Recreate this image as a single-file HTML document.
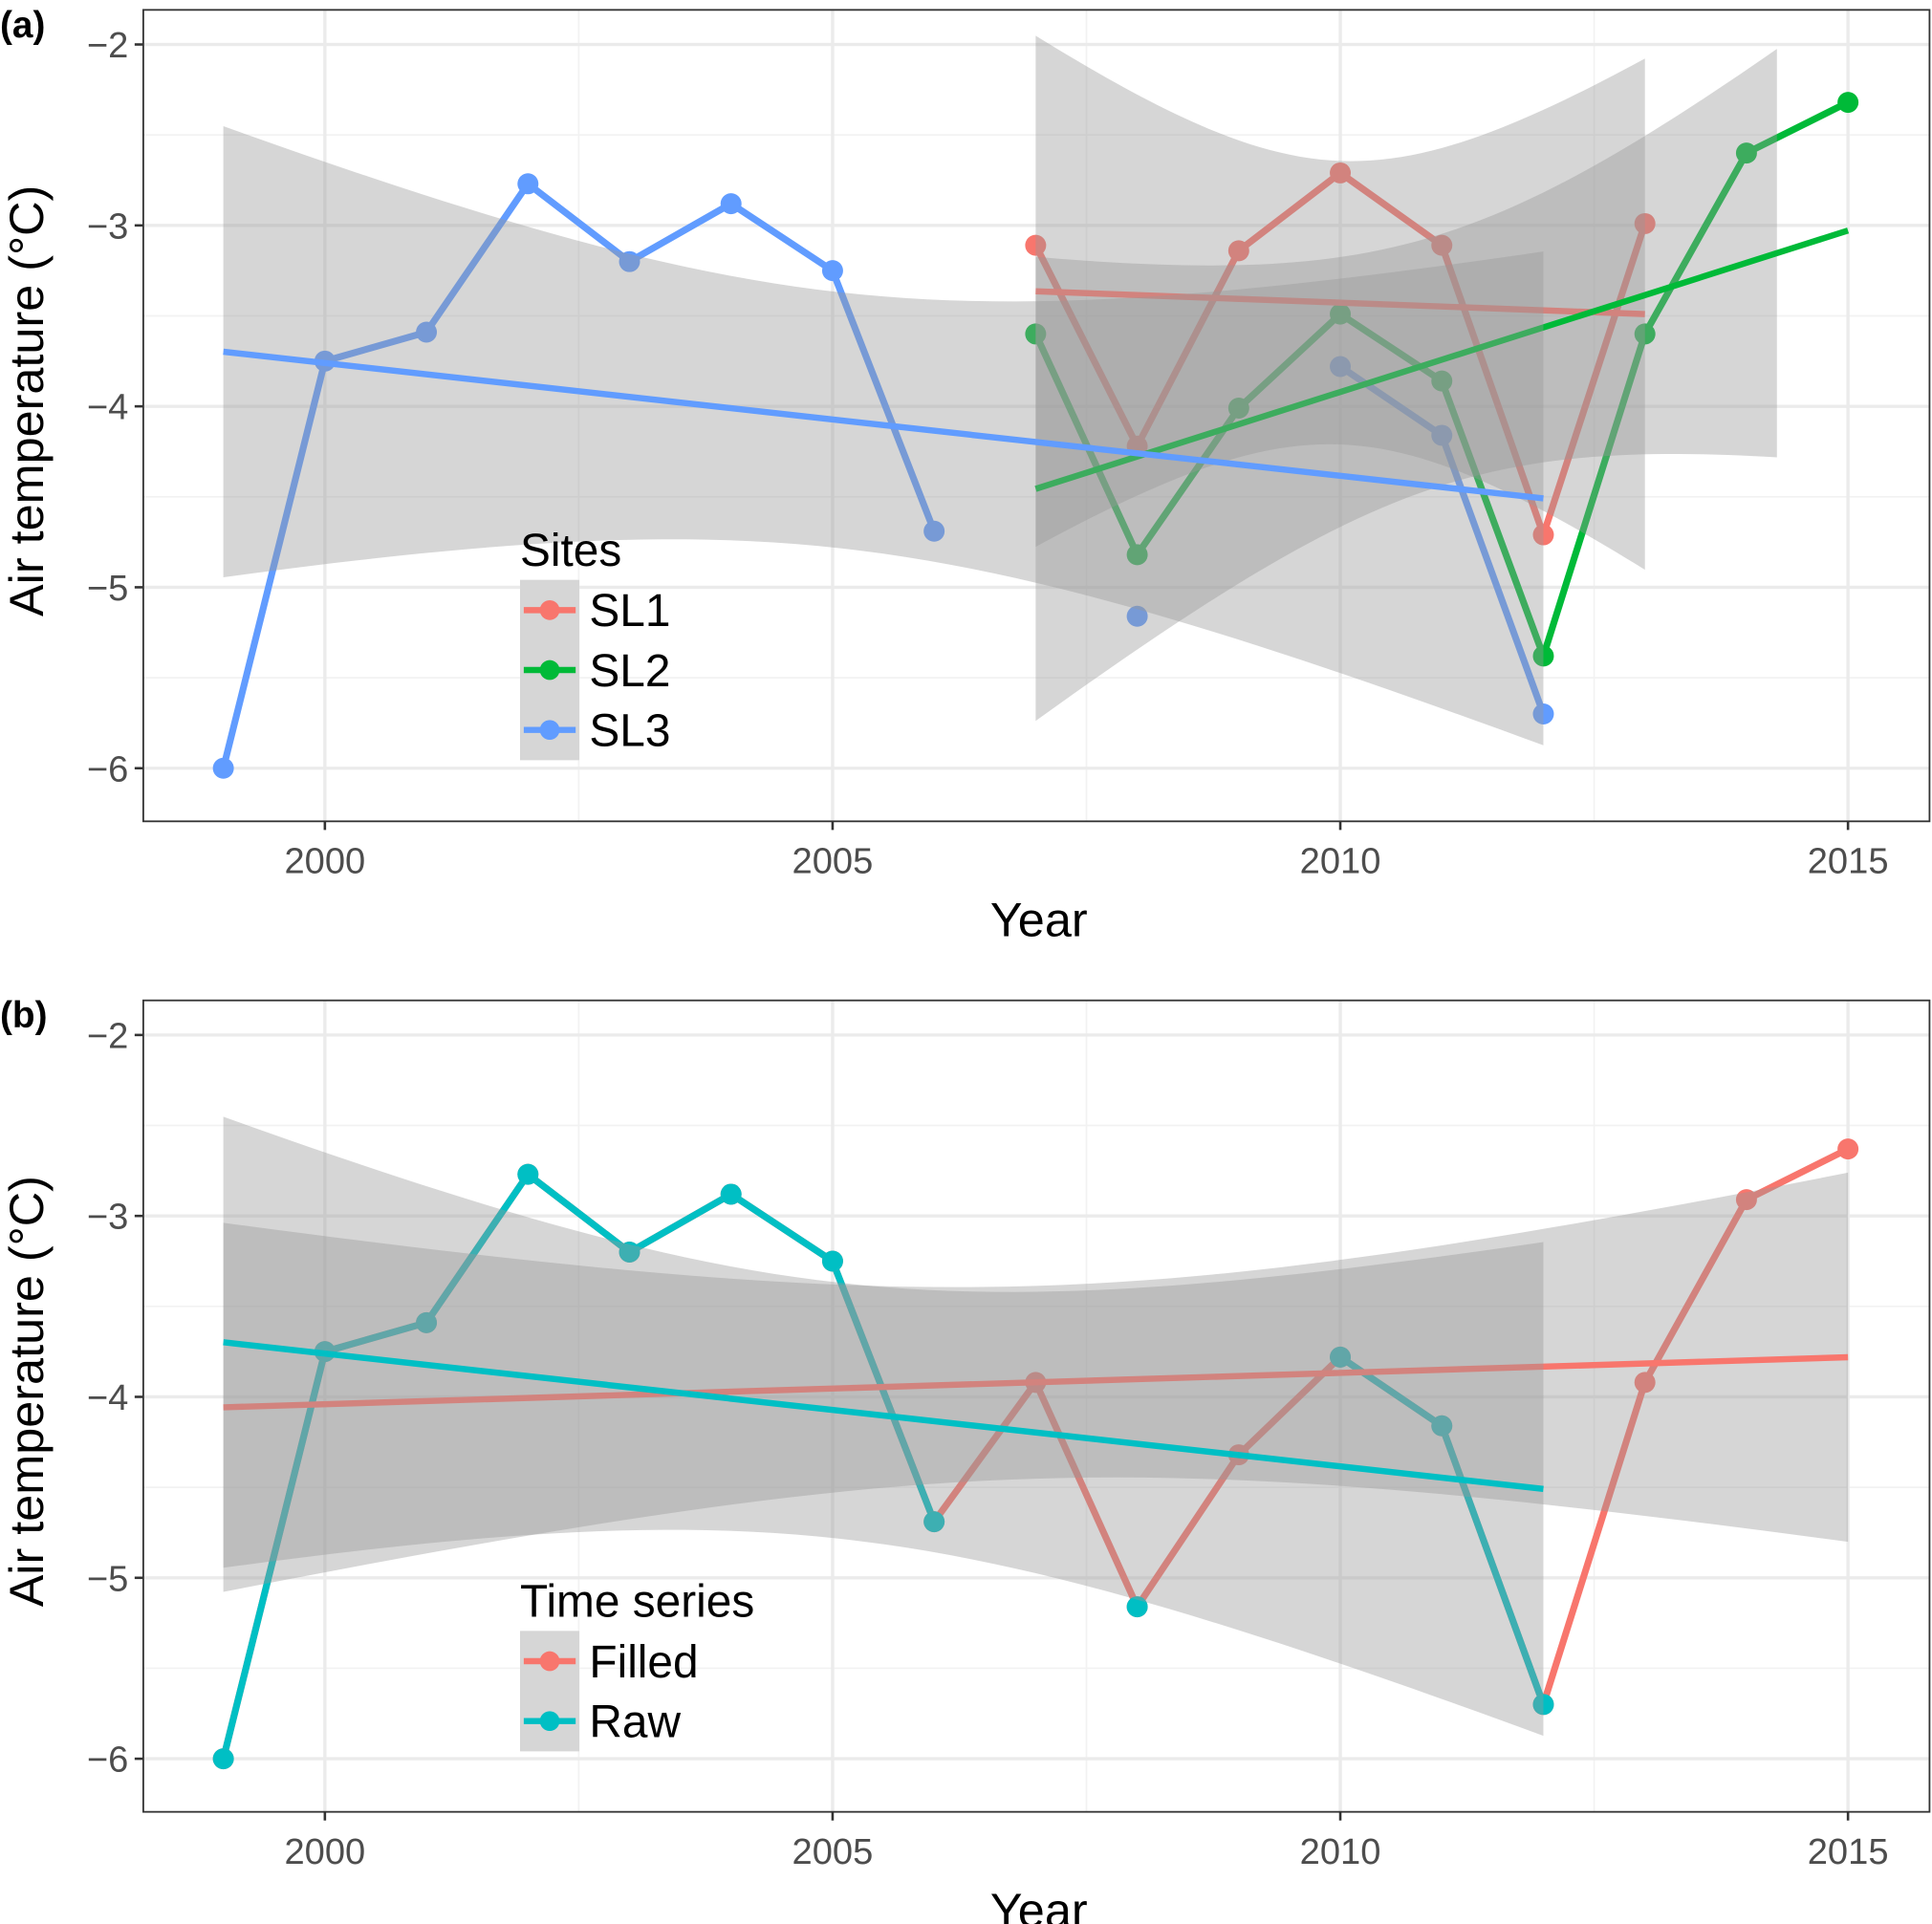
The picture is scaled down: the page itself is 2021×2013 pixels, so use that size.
<!DOCTYPE html>
<html><head><meta charset="utf-8"><style>
html,body{margin:0;padding:0;background:#fff;}
svg{display:block;font-family:"Liberation Sans",Arial,sans-serif;}
</style></head><body>
<svg id="chart" width="2021" height="2013" viewBox="0 0 1564 1557.8" xmlns="http://www.w3.org/2000/svg"></svg>
<script>
// ---------- data ----------
const sl1Years = [2007,2008,2009,2010,2011,2012,2013];
const sl1Values = [-3.11,-4.22,-3.14,-2.71,-3.11,-4.71,-2.99];
const sl2Years = [2007,2008,2009,2010,2011,2012,2013,2014,2015];
const sl2Values = [-3.60,-4.82,-4.01,-3.49,-3.86,-5.38,-3.60,-2.60,-2.32];
const sl3Years = [1999,2000,2001,2002,2003,2004,2005,2006,2007,2008,2009,2010,2011,2012];
const sl3Values = [-6.00,-3.75,-3.59,-2.77,-3.20,-2.88,-3.25,-4.69,null,-5.16,null,-3.78,-4.16,-5.70];
const filledYears = [1999,2000,2001,2002,2003,2004,2005,2006,2007,2008,2009,2010,2011,2012,2013,2014,2015];
const filledValues = [-6.00,-3.75,-3.59,-2.77,-3.20,-2.88,-3.25,-4.69,-3.92,-5.16,-4.32,-3.78,-4.16,-5.70,-3.92,-2.91,-2.63];
const rawYears = sl3Years;
const rawValues = sl3Values;
const xTicks = [2000,2005,2010,2015];
const yTicks = [-2,-3,-4,-5,-6];
const siteNames = ["SL1","SL2","SL3"];
const seriesNames = ["Filled","Raw"];
const tTable = {5:2.571,7:2.365,10:2.228,15:2.131};

const NS = "http://www.w3.org/2000/svg";
const svg = document.getElementById('chart');
function mk(tag, attrs, parent){const e=document.createElementNS(NS,tag);for(const k in attrs)e.setAttribute(k,attrs[k]);(parent||svg).appendChild(e);return e;}

const L=116, R=1562;
const xs = y => 263 + (y-2000)*82.2;

function lm(xa, ya){
  const p=[];xa.forEach((x,i)=>{if(ya[i]!==null)p.push([x,ya[i]]);});
  const n=p.length, mx=p.reduce((a,b)=>a+b[0],0)/n, my=p.reduce((a,b)=>a+b[1],0)/n;
  let sxx=0,sxy=0;p.forEach(([x,y])=>{sxx+=(x-mx)**2;sxy+=(x-mx)*(y-my);});
  const b=sxy/sxx, a=my-b*mx; let sse=0;p.forEach(([x,y])=>{sse+=(y-a-b*x)**2;});
  const s=Math.sqrt(sse/(n-2)); const t=tTable[n-2]||2.2;
  return {a,b,s,t,n,mx,sxx,x0:p[0][0],x1:p[n-1][0]};
}

function panel(top, label, groups, legendTitle, legendNames, legTop){
  const T=top, B=top+657;
  const ys = v => T+28 + (-2 - v)*146.5;
  const g = mk('g',{});
  
  
  const clipId='clip'+label;
  const cp=mk('clipPath',{id:clipId},g); mk('rect',{x:L,y:T,width:R-L,height:B-T},cp);
  [1997.5,2002.5,2007.5,2012.5,2017.5].forEach(v=>{const x=xs(v);if(x>L&&x<R)mk('line',{x1:x,x2:x,y1:T,y2:B,stroke:'#f2f2f2','stroke-width':1.3},g);});
  [-2.5,-3.5,-4.5,-5.5].forEach(v=>mk('line',{x1:L,x2:R,y1:ys(v),y2:ys(v),stroke:'#f2f2f2','stroke-width':1.3},g));
  xTicks.forEach(v=>mk('line',{x1:xs(v),x2:xs(v),y1:T,y2:B,stroke:'#ebebeb','stroke-width':2.6},g));
  yTicks.forEach(v=>mk('line',{x1:L,x2:R,y1:ys(v),y2:ys(v),stroke:'#ebebeb','stroke-width':2.6},g));
  const pg=mk('g',{'clip-path':'url(#'+clipId+')'},g);
  groups.forEach(gr=>{
    let seg=[];const segs=[];
    gr.years.forEach((y,i)=>{if(gr.vals[i]===null){if(seg.length)segs.push(seg);seg=[];}else seg.push(xs(y)+','+ys(gr.vals[i]));});
    if(seg.length)segs.push(seg);
    segs.forEach(s=>{if(s.length>1){const pl=mk('polyline',{points:s.join(' '),fill:'none',stroke:gr.color,'stroke-width':5.5,'stroke-linejoin':'round'},pg);
      
      }});
  });
  groups.forEach(gr=>{
    gr.years.forEach((y,i)=>{if(gr.vals[i]===null)return;
      const c=mk('circle',{cx:xs(y),cy:ys(gr.vals[i]),r:8.5,fill:gr.color},pg);
      
      });
  });
  groups.forEach(gr=>{
    const f=lm(gr.years,gr.vals); const x1=gr.ribbonEnd||f.x1;
    const up=[],lo=[];
    for(let k=0;k<=60;k++){const x=f.x0+(x1-f.x0)*k/60;const fit=f.a+f.b*x;
      const se=f.s*Math.sqrt(1/f.n+(x-f.mx)**2/f.sxx);
      up.push(xs(x)+','+ys(fit+f.t*se));lo.unshift(xs(x)+','+ys(fit-f.t*se));}
    const rb=mk('polygon',{points:up.concat(lo).join(' '),fill:'#999999','fill-opacity':0.4},pg);
    
    
    const tl=mk('line',{x1:xs(f.x0),y1:ys(f.a+f.b*f.x0),x2:xs(f.x1),y2:ys(f.a+f.b*f.x1),stroke:gr.color,'stroke-width':5},pg);
    
    
  });
  mk('rect',{x:L,y:T,width:R-L,height:B-T,fill:'none',stroke:'#333','stroke-width':1.4},g);
  xTicks.forEach(v=>{mk('line',{x1:xs(v),x2:xs(v),y1:B,y2:B+7,stroke:'#333','stroke-width':2},g);
    const t=mk('text',{x:xs(v),y:B+42,'text-anchor':'middle','font-size':29.5,fill:'#4d4d4d'},g);t.textContent=v;
    });
  yTicks.forEach(v=>{mk('line',{x1:L-7,x2:L,y1:ys(v),y2:ys(v),stroke:'#333','stroke-width':2},g);
    const t=mk('text',{x:L-12,y:ys(v)+10.5,'text-anchor':'end','font-size':29.5,fill:'#4d4d4d'},g);t.textContent='\u2212'+(-v);
    });
  const xt=mk('text',{x:(L+R)/2+2,y:B+93,'text-anchor':'middle','font-size':39,fill:'#000'},g);xt.textContent='Year';
  
  const yt=mk('text',{x:0,y:0,transform:`translate(35,${(T+B)/2-12}) rotate(-90)`,'text-anchor':'middle','font-size':39,fill:'#000'},g);yt.textContent='Air temperature (°C)';
  
  const pl=mk('text',{x:0,y:T+22,'font-size':30,'font-weight':'bold',fill:'#000'},g);pl.textContent='('+label+')';
  
  const lt=mk('text',{x:421,y:legTop,'font-size':37,fill:'#000'},g);lt.textContent=legendTitle;
  
  legendNames.forEach((nm,i)=>{
    const cy=legTop+36+i*48.5;
    const e=mk('g',{},g);
    
    
    mk('rect',{x:421,y:cy-24.5,width:48,height:49,fill:'#d6d6d6'},e);
    mk('line',{x1:424,x2:466,y1:cy,y2:cy,stroke:groups[i].color,'stroke-width':5},e);
    mk('circle',{cx:445,cy:cy,r:8,fill:groups[i].color},e);
    const tx=mk('text',{x:477,y:cy+13,'font-size':37,fill:'#000'},e);tx.textContent=nm;
  });
}

panel(8,'a',[
  {name:'sl1',years:sl1Years,vals:sl1Values,color:'#F8766D'},
  {name:'sl2',years:sl2Years,vals:sl2Values,color:'#00BA38',ribbonEnd:2014.3},
  {name:'sl3',years:sl3Years,vals:sl3Values,color:'#619CFF'}
],'Sites',siteNames,458);
panel(810,'b',[
  {name:'filled',years:filledYears,vals:filledValues,color:'#F8766D'},
  {name:'raw',years:rawYears,vals:rawValues,color:'#00BFC4'}
],'Time series',seriesNames,1309);
</script>
</body></html>
